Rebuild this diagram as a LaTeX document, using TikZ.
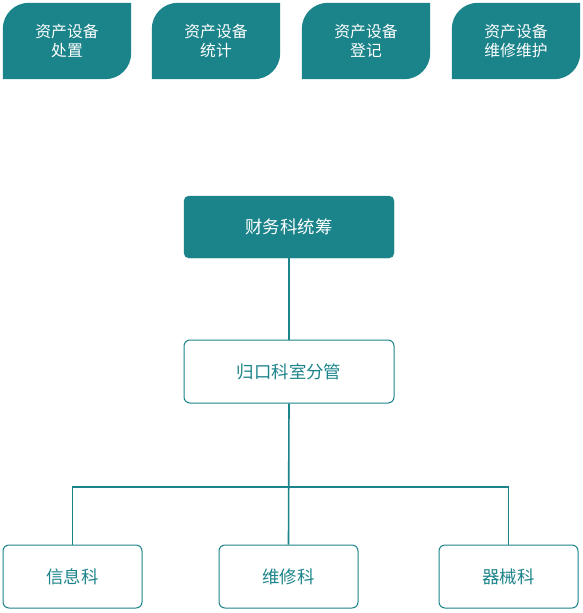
\documentclass[tikz,border=0pt]{standalone}
\usepackage{fontspec}
\setmainfont{Noto Sans CJK SC}
\definecolor{tealc}{HTML}{1B838A}
\begin{document}
\begin{tikzpicture}[x=1pt,y=1pt,
  leafbox/.style={minimum width=128pt,minimum height=76pt,inner sep=0pt,text=white,align=center,font=\fontsize{15.8}{18.5}\selectfont},
  filledbox/.style={draw=tealc,fill=tealc,rounded corners=5pt,minimum width=210pt,minimum height=62pt,text=white,font=\fontsize{17.4}{20}\selectfont},
  outbox/.style={draw=tealc,line width=1pt,fill=white,rounded corners=6pt,minimum width=210pt,minimum height=63pt,text=tealc,font=\fontsize{17.4}{20}\selectfont},
  smallbox/.style={draw=tealc,line width=1pt,fill=white,rounded corners=6pt,minimum width=139pt,minimum height=63pt,text=tealc,font=\fontsize{17.4}{20}\selectfont},
  conn/.style={draw=tealc,line width=1.6pt}]
\useasboundingbox (0,0) rectangle (582,-613);
\def\leafr{26}
\foreach \nm/\cx in {t1/67,t2/216,t3/366,t4/516}{
  \node[leafbox] (\nm) at (\cx,-41) {};
  \fill[tealc] (\nm.south west) -- ([yshift=-\leafr pt]\nm.north west) arc[start angle=180,end angle=90,radius=\leafr] -- (\nm.north east) -- ([yshift=\leafr pt]\nm.south east) arc[start angle=0,end angle=-90,radius=\leafr] -- cycle;
}
\node[leafbox] at (t1) {资产设备\\处置};
\node[leafbox] at (t2) {资产设备\\统计};
\node[leafbox] at (t3) {资产设备\\登记};
\node[leafbox] at (t4) {资产设备\\维修维护};
\node[filledbox] (a) at (289,-227) {财务科统筹};
\node[outbox] (b) at (289,-371.5) {归口科室分管};
\node[smallbox] (c1) at (72.5,-576.5) {信息科};
\node[smallbox] (c2) at (288.5,-576.5) {维修科};
\node[smallbox] (c3) at (508.5,-576.5) {器械科};
\coordinate (j) at (289,-487);
\draw[conn] (a.south) -- (b.north);
\draw[conn] (b.south) -- (c2.north);
\draw[conn] (c1.north) -- (c1.north |- j) -- (c3.north |- j) -- (c3.north);
\end{tikzpicture}
\end{document}
